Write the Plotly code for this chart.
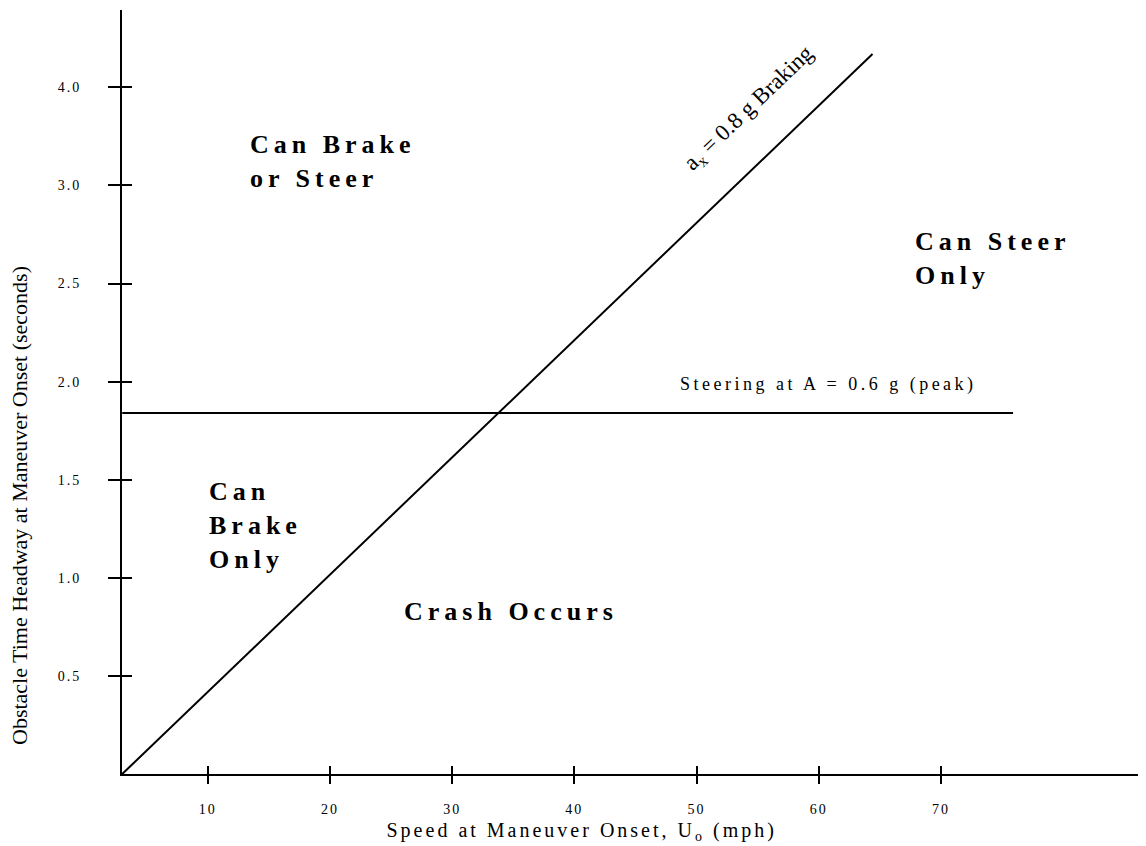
import plotly.graph_objects as go

# ---- data ----
x_tick_vals = [10, 20, 30, 40, 50, 60, 70]
x_tick_text = ["10", "20", "30", "40", "50", "60", "70"]
y_tick_vals = [0.5, 1.0, 1.5, 2.0, 2.5, 3.0, 3.5]
y_tick_text = ["0.5", "1.0", "1.5", "2.0", "2.5", "3.0", "4.0"]

braking_speed = [3.0, 64.4]        # mph
braking_headway = [0.0, 3.67]      # s
steering_speed = [3.0, 75.9]
steering_headway = [1.84, 1.84]

x_range = [2.98, 86.78]
y_range = [0.0, 3.894]

serif = "Liberation Serif"
black = "#000000"

fig = go.Figure()
fig.add_trace(go.Scatter(x=braking_speed, y=braking_headway, mode="lines",
                         line=dict(color=black, width=2), showlegend=False, hoverinfo="skip"))
fig.add_trace(go.Scatter(x=steering_speed, y=steering_headway, mode="lines",
                         line=dict(color=black, width=2), showlegend=False, hoverinfo="skip"))
# invisible trace on overlay axes (inner half of the crossing ticks)
fig.add_trace(go.Scatter(x=[x_range[0]], y=[y_range[0]], xaxis="x2", yaxis="y2",
                         mode="markers", marker=dict(opacity=0), showlegend=False, hoverinfo="skip"))

axis_common = dict(showgrid=False, zeroline=False)
fig.update_layout(
    width=1138, height=838,
    margin=dict(l=114, r=0, t=2, b=72),
    paper_bgcolor="white", plot_bgcolor="white",
    font=dict(family=serif, color=black),
    xaxis=dict(range=x_range, tickvals=x_tick_vals, ticktext=x_tick_text,
               ticks="outside", ticklen=8, tickwidth=2, tickcolor=black,
               showline=True, linecolor=black, linewidth=2,
               tickfont=dict(family=serif, size=14, color=black),
               ticklabelstandoff=13, **axis_common),
    yaxis=dict(range=y_range, tickvals=y_tick_vals, ticktext=y_tick_text,
               ticks="outside", ticklen=12, tickwidth=2, tickcolor=black,
               showline=True, linecolor=black, linewidth=2,
               tickfont=dict(family=serif, size=14, color=black),
               ticklabelstandoff=24, **axis_common),
    xaxis2=dict(range=x_range, overlaying="x", anchor="y2", side="bottom",
                tickvals=x_tick_vals, ticks="inside", ticklen=8, tickwidth=2, tickcolor=black,
                showticklabels=False, showline=False, **axis_common),
    yaxis2=dict(range=y_range, overlaying="y", anchor="x2", side="left",
                tickvals=y_tick_vals, ticks="inside", ticklen=10, tickwidth=2, tickcolor=black,
                showticklabels=False, showline=False, **axis_common),
)

bold = dict(family=serif, size=26, color=black, weight="bold")
anns = [
    dict(x=13.3, y=3.124, text="Can Brake<br>or Steer", xanchor="left", yanchor="middle", align="left", font=bold),
    dict(x=67.7, y=2.625, text="Can Steer<br>Only", xanchor="left", yanchor="middle", align="left", font=bold),
    dict(x=9.9, y=1.269, text="Can<br>Brake<br>Only", xanchor="left", yanchor="middle", align="left", font=bold),
    dict(x=25.87, y=0.827, text="Crash Occurs", xanchor="left", yanchor="middle", align="left", font=bold),
    dict(x=54.3, y=3.39, text="a<sub>x</sub> = 0.8 g Braking", textangle=-43.7,
         xanchor="center", yanchor="middle", font=dict(family=serif, size=23, color=black)),
    dict(x=60.8, y=1.983, text="Steering at A = 0.6 g (peak)", xanchor="center", yanchor="middle",
         font=dict(family=serif, size=18, color=black)),
    dict(x=40.6, y=-0.075, yref="paper", text="Speed at Maneuver Onset, U<sub>o</sub> (mph)",
         xanchor="center", yanchor="middle", font=dict(family=serif, size=20, color=black)),
    dict(x=-0.1006, xref="paper", y=1.371, text="Obstacle Time Headway at Maneuver Onset (seconds)",
         textangle=-90, xanchor="center", yanchor="middle", font=dict(family=serif, size=22, color=black)),
]
for a in anns:
    a.setdefault("xref", "x")
    a.setdefault("yref", "y")
    a["showarrow"] = False
    fig.add_annotation(**a)

# letter spacing of the original typesetting (style only)
post = """
var gd = document.getElementById('{plot_id}');
var sp = {"0":"5px","1":"5px","2":"5px","3":"5px","5":"3.5px","6":"3px"};
gd.querySelectorAll('g.annotation').forEach(function(g){
  var i = g.getAttribute('data-index');
  if (sp[i]) { g.querySelectorAll('text').forEach(function(t){ t.style.letterSpacing = sp[i]; }); }
});
gd.querySelectorAll('g.xtick text, g.ytick text').forEach(function(t){ t.style.letterSpacing = '2px'; });
"""

fig.write_html("out.html", post_script=post)
